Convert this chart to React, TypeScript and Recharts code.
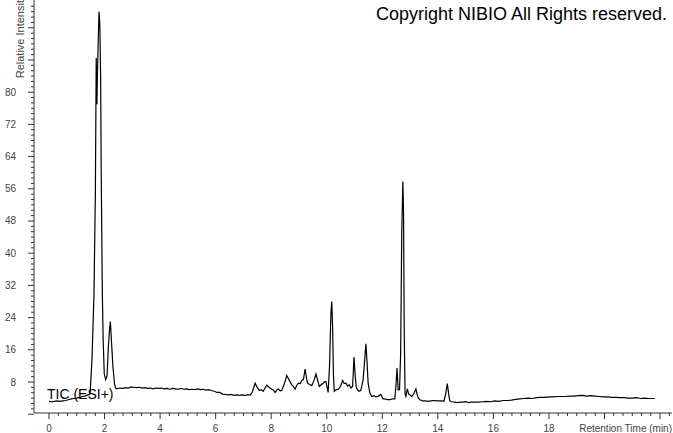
import React from "react";
import { LineChart, Line, XAxis, YAxis } from "recharts";

// Retention time (min)
const times: number[] = [
  0.0, 0.1, 0.2, 0.3, 0.4, 0.5, 0.6, 0.7, 0.8, 0.9, 1.0, 1.1, 1.2, 1.3, 1.4, 1.48,
  1.55, 1.62, 1.67, 1.7, 1.725, 1.745, 1.8, 1.83, 1.86, 1.88, 1.92, 1.95, 1.99, 2.04,
  2.09, 2.14, 2.18, 2.21, 2.25, 2.3, 2.36, 2.4, 2.44, 2.55, 2.65, 2.75, 2.85, 2.95,
  3.05, 3.15, 3.25, 3.35, 3.45, 3.55, 3.65, 3.75, 3.85, 3.95, 4.05, 4.15, 4.25, 4.35,
  4.45, 4.55, 4.65, 4.75, 4.85, 4.95, 5.05, 5.15, 5.25, 5.35, 5.45, 5.55, 5.65, 5.75,
  5.85, 5.95, 6.05, 6.15, 6.25, 6.35, 6.45, 6.55, 6.65, 6.75, 6.85, 6.95, 7.05, 7.15,
  7.25, 7.32, 7.42, 7.5, 7.57, 7.64, 7.71, 7.78, 7.84, 7.92, 8.02, 8.08, 8.14, 8.2,
  8.25, 8.32, 8.38, 8.47, 8.56, 8.64, 8.74, 8.8, 8.86, 8.92, 8.98, 9.05, 9.1, 9.16,
  9.22, 9.27, 9.31, 9.38, 9.46, 9.54, 9.61, 9.67, 9.73, 9.8, 9.87, 9.93, 9.97, 10.02,
  10.05, 10.1, 10.15, 10.18, 10.21, 10.24, 10.27, 10.32, 10.36, 10.42, 10.5, 10.57,
  10.63, 10.69, 10.75, 10.81, 10.87, 10.93, 10.96, 10.98, 11.02, 11.06, 11.1, 11.16,
  11.22, 11.26, 11.31, 11.36, 11.41, 11.45, 11.49, 11.55, 11.62, 11.7, 11.77, 11.86,
  11.94, 12.0, 12.03, 12.1, 12.18, 12.27, 12.36, 12.45, 12.49, 12.53, 12.57, 12.62,
  12.66, 12.7, 12.74, 12.765, 12.79, 12.82, 12.85, 12.9, 12.95, 12.99, 13.06, 13.14,
  13.21, 13.25, 13.3, 13.36, 13.45, 13.55, 13.65, 13.75, 13.85, 13.96, 14.05, 14.15,
  14.22, 14.28, 14.34, 14.39, 14.43, 14.5, 14.6, 14.7, 14.8, 14.9, 15.0, 15.1, 15.2,
  15.3, 15.45, 15.6, 15.75, 15.9, 16.05, 16.2, 16.35, 16.5, 16.65, 16.8, 16.95, 17.1,
  17.25, 17.4, 17.55, 17.7, 17.85, 18.0, 18.15, 18.3, 18.45, 18.6, 18.75, 18.9, 19.05,
  19.2, 19.35, 19.5, 19.65, 19.8, 19.95, 20.1, 20.25, 20.4, 20.55, 20.7, 20.85, 21.0,
  21.15, 21.3, 21.45, 21.6, 21.81,
];

// Relative intensity
const intensities: number[] = [
  3.2, 3.1, 3.2, 3.3, 3.2, 3.3, 3.4, 3.6, 3.8, 3.9, 4.0, 4.2, 4.4, 4.5, 4.8, 5.0,
  14, 30, 55, 88.5, 77, 85, 100, 97, 83, 60, 30, 18.5, 10, 8.6,
  9.5, 17, 21, 23, 18, 12, 7.5, 6.5, 6.3, 6.5, 6.4, 6.6, 6.5, 6.8,
  6.7, 6.6, 6.7, 6.5, 6.6, 6.4, 6.5, 6.3, 6.5, 6.4, 6.5, 6.3, 6.4, 6.2,
  6.4, 6.3, 6.2, 6.4, 6.2, 6.3, 6.1, 6.2, 6.1, 6.3, 6.1, 6.2, 6.0, 6.1,
  5.9, 5.7, 5.4, 5.4, 5.0, 4.9, 4.8, 4.9, 4.7, 4.8, 4.7, 4.8, 4.7, 4.8,
  4.8, 5.5, 7.7, 6.6, 5.9, 6.1, 5.7, 6.5, 7.2, 6.7, 6.2, 6.0, 5.4, 6.0,
  6.3, 5.8, 5.9, 7.5, 9.6, 8.6, 7.3, 6.9, 6.2, 7.2, 7.7, 7.6, 8.4, 8.6,
  11.2, 9.0, 7.7, 7.4, 7.1, 8.4, 10.0, 8.5, 6.9, 7.3, 7.7, 8.1, 8.1, 6.5,
  5.4, 12, 25, 28, 22, 10, 5.7, 6.0, 6.1, 6.2, 7.0, 8.4,
  7.6, 7.7, 7.0, 7.3, 6.5, 6.9, 11, 14.2, 10, 6.8, 6.1, 5.7,
  5.9, 6.9, 8.6, 13, 17.5, 13, 7.7, 5.3, 4.4, 4.6, 4.3, 4.5,
  4.9, 4.2, 3.8, 3.8, 3.6, 3.6, 3.8, 3.8, 7, 11.5, 6, 6.1,
  15, 45, 57.8, 50, 20, 5, 4.4, 6.3, 5.0, 4.8, 4.4, 5.2,
  6.3, 5.0, 4.0, 3.6, 3.3, 3.3, 3.2, 3.3, 3.4, 3.3, 3.3, 3.3,
  3.2, 5, 7.6, 5, 3.3, 3.1, 3.0, 2.9, 3.0, 3.0, 3.1, 2.9, 3.0,
  3.0, 3.0, 3.1, 3.2, 3.1, 3.3, 3.2, 3.4, 3.4, 3.5, 3.7, 3.8, 3.9,
  4.0, 3.9, 4.1, 4.2, 4.2, 4.3, 4.3, 4.4, 4.4, 4.4, 4.5, 4.5, 4.6,
  4.7, 4.5, 4.6, 4.5, 4.4, 4.3, 4.3, 4.2, 4.2, 4.1, 4.1, 4.0, 4.0,
  4.1, 3.9, 4.0, 3.9, 3.9,
];

const xLabelTicks: number[] = [0, 2, 4, 6, 8, 10, 12, 14, 16, 18];
const xMajorTicks: number[] = [0, 2, 4, 6, 8, 10, 12, 14, 16, 18, 20, 22];
const yLabelTicks: number[] = [8, 16, 24, 32, 40, 48, 56, 64, 72, 80];
const yMajorTicks: number[] = [0, 8, 16, 24, 32, 40, 48, 56, 64, 72, 80, 88, 96];

const rows = times.map((t, i) => ({ t, v: intensities[i] }));

const W = 673;
const H = 433;
const X_AXIS_H = 20;
const Y_AXIS_W = 34;
const AXIS_Y = H - X_AXIS_H;
const AXIS_X = Y_AXIS_W;

const xTicks: number[] = [];
for (let i = 0; i <= 67; i++) xTicks.push(Math.round((i * 2 / 6) * 1000) / 1000);
const yTicks: number[] = [];
for (let i = 0; i <= 76; i++) yTicks.push(Math.round((i * 8 / 6) * 1000) / 1000);

const near = (v: number, list: number[]) => list.some((m) => Math.abs(m - v) < 1e-3);

const XTick = (props: any) => {
  const { x, payload } = props;
  const v = payload.value;
  const major = near(v, xMajorTicks);
  return (
    <g>
      <line x1={x} x2={x} y1={AXIS_Y} y2={AXIS_Y + (major ? 6 : 3)} stroke="#333" strokeWidth={1} />
      {near(v, xLabelTicks) && (
        <text x={x} y={AXIS_Y + 18.5} textAnchor="middle" fontSize={10} fill="#444" fontFamily="Liberation Sans, Arial, sans-serif">
          {v}
        </text>
      )}
    </g>
  );
};

const YTick = (props: any) => {
  const { y, payload } = props;
  const v = payload.value;
  const major = near(v, yMajorTicks);
  return (
    <g>
      <line x1={AXIS_X} x2={AXIS_X - (major ? 6 : 3)} y1={y} y2={y} stroke="#333" strokeWidth={1} />
      {near(v, yLabelTicks) && (
        <text x={16} y={y + 3.5} textAnchor="end" fontSize={10} fill="#444" fontFamily="Liberation Sans, Arial, sans-serif">
          {v}
        </text>
      )}
    </g>
  );
};

export default function App() {
  return (
    <div style={{ position: "absolute", left: 0, top: 0, width: W, height: H, background: "#fff", fontFamily: "Liberation Sans, Arial, sans-serif" }}>
      <LineChart width={W} height={H} data={rows} margin={{ top: 0, right: 1, bottom: 0, left: 0 }}>
        <XAxis
          dataKey="t"
          type="number"
          domain={[-0.54, 22.43]}
          ticks={xTicks}
          interval={0}
          tick={<XTick />}
          tickLine={false}
          axisLine={{ stroke: "#333" }}
          height={X_AXIS_H}
          allowDataOverflow
        />
        <YAxis
          type="number"
          domain={[0.3, 102.9]}
          ticks={yTicks}
          interval={0}
          tick={<YTick />}
          tickLine={false}
          axisLine={{ stroke: "#333" }}
          width={Y_AXIS_W}
          allowDataOverflow
        />
        <Line dataKey="v" type="linear" stroke="#000" strokeWidth={1.2} dot={false} isAnimationActive={false} />
      </LineChart>
      <svg width={W} height={H} style={{ position: "absolute", left: 0, top: 0, pointerEvents: "none" }}>
        <text x={24} y={78.3} transform="rotate(-90, 24, 78.3)" fontSize={11} fill="#444" fontFamily="Liberation Sans, Arial, sans-serif">
          Relative Intensity
        </text>
        <text x={376} y={20} fontSize={18} fill="#000" fontFamily="Liberation Sans, Arial, sans-serif">
          Copyright NIBIO All Rights reserved.
        </text>
        <text x={47} y={399} fontSize={14} fill="#000" fontFamily="Liberation Sans, Arial, sans-serif">
          TIC (ESI+)
        </text>
        <text x={672} y={431.5} textAnchor="end" fontSize={10} fill="#444" fontFamily="Liberation Sans, Arial, sans-serif">
          Retention Time (min)
        </text>
      </svg>
    </div>
  );
}
